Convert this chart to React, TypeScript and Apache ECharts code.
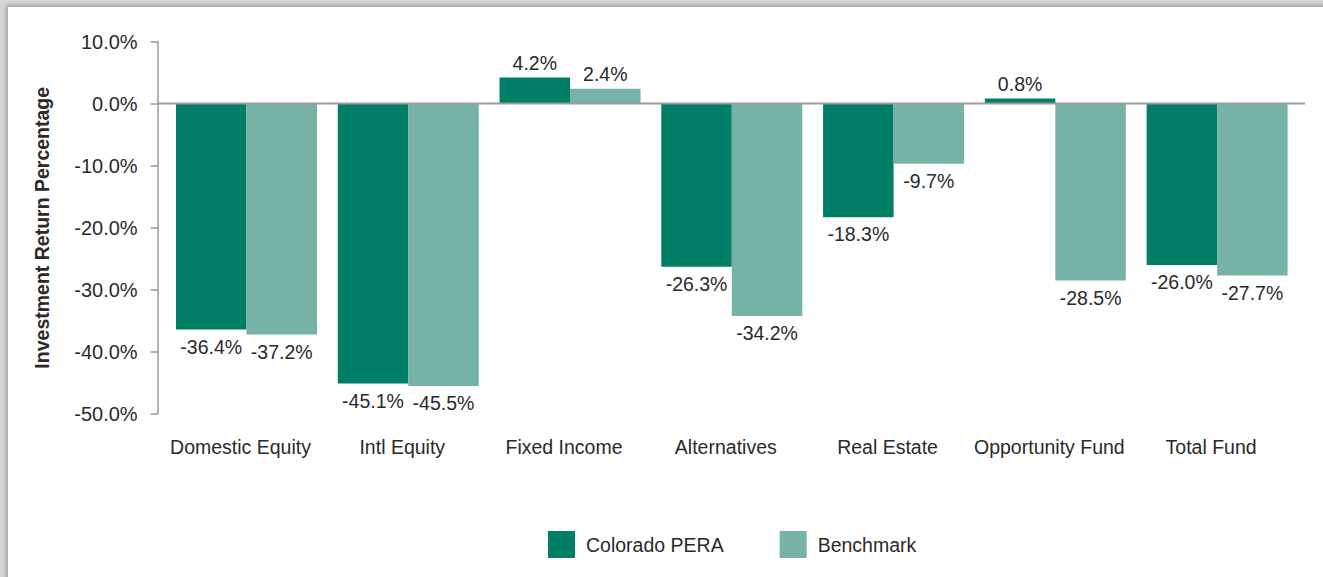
import React, { useEffect, useRef } from "react";
import * as echarts from "echarts";

const categories = [
  "Domestic Equity",
  "Intl Equity",
  "Fixed Income",
  "Alternatives",
  "Real Estate",
  "Opportunity Fund",
  "Total Fund",
];
const peraValues = [-36.4, -45.1, 4.2, -26.3, -18.3, 0.8, -26.0];
const benchmarkValues = [-37.2, -45.5, 2.4, -34.2, -9.7, -28.5, -27.7];
const seriesNames = ["Colorado PERA", "Benchmark"];
const yTicks = { min: -50, max: 10, interval: 10 };
const yAxisTitle = "Investment Return Percentage";

const FONT = '"Liberation Sans", Arial, Helvetica, sans-serif';
const TEXT = "#2a2a2a";
const DARK = "#007e66";
const LIGHT = "#77b2a7";
const AXIS = "#9a9a9e";

const fmt = (v: number) => v.toFixed(1) + "%";

export default function App() {
  const ref = useRef<HTMLDivElement>(null);
  useEffect(() => {
    if (!ref.current) return;
    const chart = echarts.init(ref.current, null, { renderer: "svg" });
    const mk = (vals: number[]) =>
      vals.map((v) => ({
        value: v,
        label: { position: v < 0 ? "bottom" : "top", distance: v < 0 ? 7 : 5 },
      }));
    const labelStyle = {
      show: true,
      formatter: (p: any) => fmt(p.value),
      fontSize: 19.5,
      fontFamily: FONT,
      color: TEXT,
    };
    chart.setOption({
      animation: false,
      textStyle: { fontFamily: FONT },
      grid: { left: 165.6, right: 25, top: 41.5, bottom: 163, containLabel: false },
      legend: {
        data: seriesNames,
        left: 548,
        top: 531,
        padding: 0,
        itemWidth: 27,
        itemHeight: 27,
        itemGap: 56,
        icon: "rect",
        textStyle: { fontSize: 19.5, fontFamily: FONT, color: TEXT, padding: [0, 0, 0, 6] },
      },
      xAxis: {
        type: "category",
        data: categories,
        axisLine: { show: false, onZero: false },
        axisTick: { show: false },
        axisLabel: {
          fontSize: 19.5,
          fontFamily: FONT,
          color: TEXT,
          margin: 23,
          interval: 0,
          padding: [0, 12, 0, 0],
        },
        splitLine: { show: false },
      },
      yAxis: {
        type: "value",
        min: yTicks.min,
        max: yTicks.max,
        interval: yTicks.interval,
        offset: 8,
        name: yAxisTitle,
        nameLocation: "middle",
        nameRotate: 90,
        nameGap: 106,
        nameTextStyle: { fontSize: 19.5, fontWeight: "bold", fontFamily: FONT, color: TEXT },
        axisLine: { show: true, lineStyle: { color: AXIS, width: 1.5 } },
        axisTick: { show: true, length: 7, lineStyle: { color: AXIS, width: 1.5 } },
        axisLabel: { formatter: (v: number) => fmt(v), fontSize: 20, fontFamily: FONT, color: TEXT, margin: 20 },
        splitLine: { show: false },
      },
      series: [
        {
          name: seriesNames[0],
          type: "bar",
          data: mk(peraValues),
          barWidth: 70.5,
          barGap: "0%",
          itemStyle: { color: DARK },
          label: labelStyle,
        },
        {
          name: seriesNames[1],
          type: "bar",
          data: mk(benchmarkValues),
          barWidth: 70.5,
          barGap: "0%",
          itemStyle: { color: LIGHT },
          label: labelStyle,
        },
      ],
    });
    const y0 = chart.convertToPixel({ yAxisIndex: 0 }, 0) as number;
    chart.setOption({
      graphic: [
        {
          type: "line",
          z: 100,
          shape: { x1: 157, y1: y0, x2: 1305, y2: y0 },
          style: { stroke: AXIS, lineWidth: 2 },
        },
      ],
    });
    return () => chart.dispose();
  }, []);
  return (
    <div style={{ position: "fixed", left: 0, top: 0, width: 1323, height: 577, background: "#d6d6d8", overflow: "hidden" }}>
      <div
        style={{
          position: "absolute",
          left: 8,
          top: 7,
          width: 1330,
          height: 590,
          background: "#ffffff",
          boxShadow: "-2px -2px 4px rgba(0,0,0,0.25)",
        }}
      />
      <div ref={ref} style={{ position: "absolute", left: 0, top: 0, width: 1323, height: 577 }} />
    </div>
  );
}
